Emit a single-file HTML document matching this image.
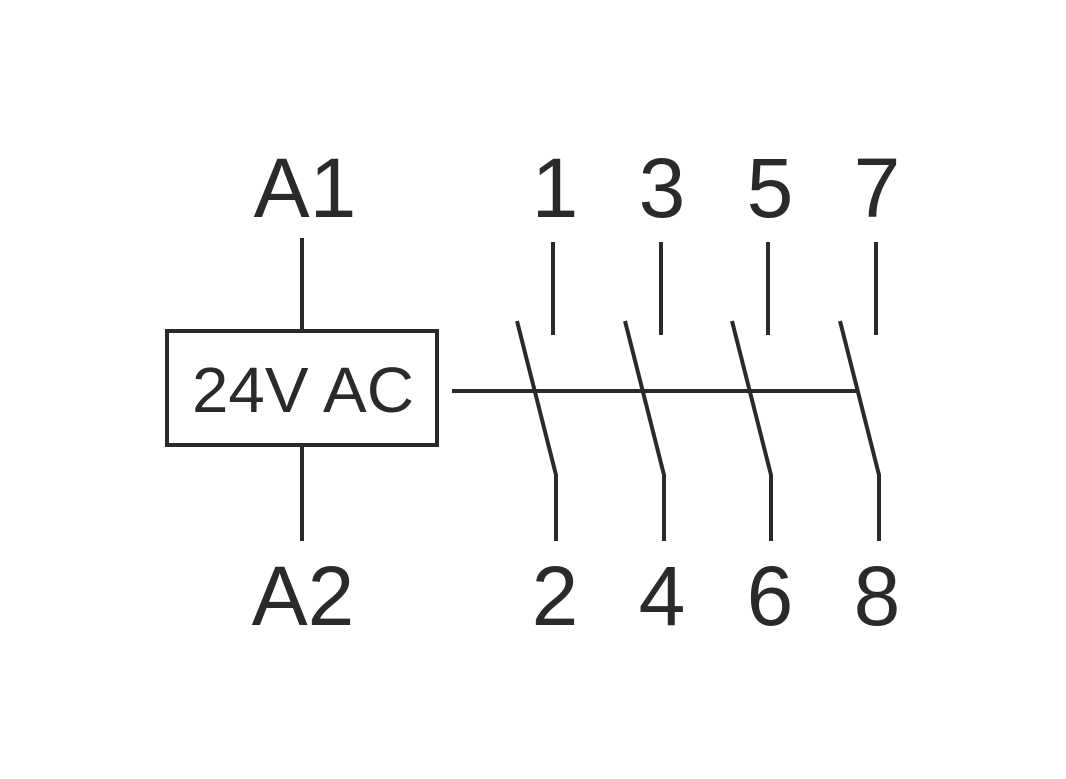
<!DOCTYPE html>
<html><head><style>body{margin:0;background:#fff}svg{display:block}</style></head><body>
<svg width="1066" height="779" viewBox="0 0 1066 779" xmlns="http://www.w3.org/2000/svg">
<rect width="1066" height="779" fill="#fff"/>
<g stroke="#2b2a29" stroke-width="4" fill="none">
<line x1="302" y1="238" x2="302" y2="330"/>
<rect x="167" y="331" width="270" height="114"/>
<line x1="302" y1="446" x2="302" y2="541"/>
<line x1="452" y1="391" x2="857" y2="391"/>
<g id="s">
<line x1="553" y1="242" x2="553" y2="335"/>
<polyline points="517,321 556,475 556,541"/>
</g>
<use href="#s" x="108"/>
<use href="#s" x="215"/>
<use href="#s" x="323"/>
</g>
<g fill="#2b2a29" font-family="Liberation Sans, sans-serif" text-anchor="middle" font-size="84">
<text x="305" y="217">A1</text>
<text x="303" y="625">A2</text>
<text x="555" y="217">1</text>
<text x="662" y="217">3</text>
<text x="770" y="217">5</text>
<text x="877" y="217">7</text>
<text x="555" y="625">2</text>
<text x="662" y="625">4</text>
<text x="770" y="625">6</text>
<text x="877" y="625">8</text>
<text x="303" y="412" font-size="64" textLength="222" lengthAdjust="spacingAndGlyphs">24V AC</text>
</g>
</svg>
</body></html>
